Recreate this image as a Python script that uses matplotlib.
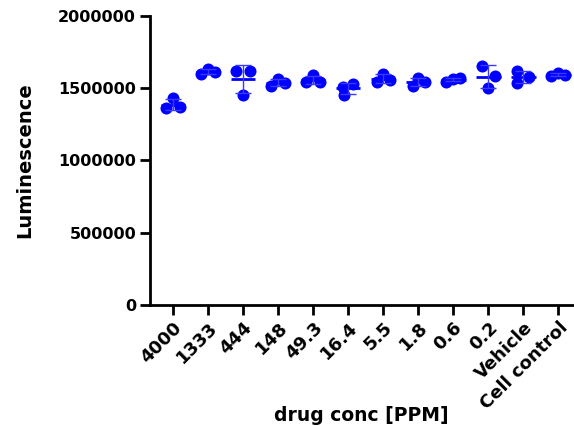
import numpy as np
import matplotlib.pyplot as plt

plt.rcParams['font.family'] = ['DejaVu Sans']
plt.rcParams['font.weight'] = 'bold'

# data (luminescence, 3 replicates per group)
groups = ["4000", "1333", "444", "148", "49.3", "16.4", "5.5", "1.8", "0.6", "0.2",
          "Vehicle", "Cell control"]
values = [
    [1430000, 1360000, 1370000],
    [1600000, 1630000, 1615000],
    [1620000, 1620000, 1450000],
    [1515000, 1565000, 1535000],
    [1540000, 1590000, 1540000],
    [1510000, 1530000, 1455000],
    [1545000, 1600000, 1555000],
    [1515000, 1570000, 1540000],
    [1545000, 1565000, 1570000],
    [1656000, 1585000, 1500000],
    [1620000, 1575000, 1535000],
    [1585000, 1605000, 1590000],
]
# horizontal scatter of the points inside each column
spread = [
    [0, -0.2, 0.2], [-0.2, 0, 0.2], [-0.2, 0.2, 0], [-0.2, 0, 0.2],
    [-0.2, 0, 0.2], [-0.15, 0.15, -0.12], [-0.17, 0, 0.2], [-0.15, 0, 0.2],
    [-0.2, 0, 0.2], [-0.18, 0.2, 0], [-0.18, 0.15, -0.18], [-0.2, 0, 0.2],
]

fig = plt.figure(figsize=(5.74, 4.26), dpi=100)
ax = fig.add_axes([0.2613, 0.284, 0.737, 0.6786])

blue = "#0000FF"
for i, (v, s) in enumerate(zip(values, spread)):
    v = np.array(v)
    ax.scatter(i + np.array(s), v, s=75, color=blue, zorder=3, linewidths=0)
    m = v.mean()
    sd = v.std(ddof=1)
    ax.hlines(m, i - 0.35, i + 0.35, color=blue, lw=2, zorder=4)
    ax.errorbar(i, m, yerr=sd, fmt='none', ecolor="#3a3aff", elinewidth=1,
                capsize=6, capthick=1, zorder=4)

ax.set_xlim(-0.66, 11.42)
ax.set_ylim(0, 2000000)
ax.set_yticks([0, 500000, 1000000, 1500000, 2000000])
ax.set_yticklabels(["0", "500000", "1000000", "1500000", "2000000"])
ax.set_xticks(range(len(groups)))
ax.set_xticklabels(groups, rotation=45, ha='right', rotation_mode='anchor')

for sp in ['top', 'right']:
    ax.spines[sp].set_visible(False)
for sp in ['left', 'bottom']:
    ax.spines[sp].set_linewidth(2)
ax.tick_params(axis='both', direction='out', length=7, width=2)
ax.tick_params(axis='y', labelsize=11.5, pad=3)
ax.tick_params(axis='x', labelsize=13, pad=3)

ax.set_ylabel("Luminescence", fontsize=14, fontweight='bold', va='center')
ax.yaxis.set_label_coords(-0.2955, 0.5)
ax.set_xlabel("drug conc [PPM]", fontsize=13.5, fontweight='bold', va='center')
ax.xaxis.set_label_coords(0.5, -0.381)

fig.savefig("out.png", dpi=100)
